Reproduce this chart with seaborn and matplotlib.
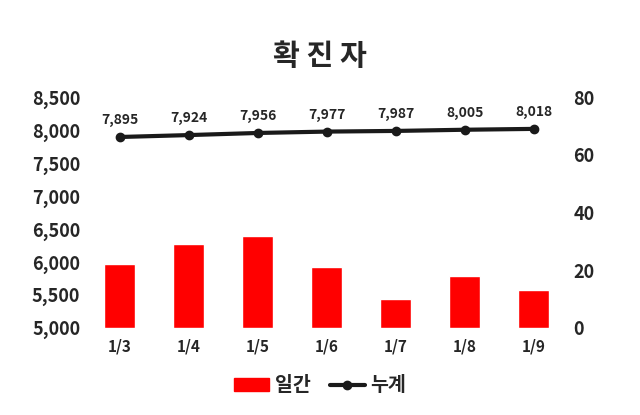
import matplotlib
matplotlib.use("Agg")
import matplotlib.pyplot as plt
import seaborn as sns
import pandas as pd
from matplotlib.lines import Line2D
from matplotlib.patches import Patch

dates = ["1/3", "1/4", "1/5", "1/6", "1/7", "1/8", "1/9"]
daily = [22, 29, 32, 21, 10, 18, 13]
cumulative = [7895, 7924, 7956, 7977, 7987, 8005, 8018]

sns.set_theme(style="white")
plt.rcParams['font.family'] = ['Noto Sans CJK KR', 'DejaVu Sans']

df = pd.DataFrame({"date": dates, "daily": daily, "cum": cumulative})
fig = plt.figure(figsize=(6.4, 4.15), dpi=100)
ax = fig.add_axes([0.133, 0.21, 0.755, 0.556])
ax2 = ax.twinx()

sns.barplot(data=df, x="date", y="daily", color="#ff0000", saturation=1, width=0.45, ax=ax2)
ax2.set_ylim(0, 80)
ax2.set_yticks([0, 20, 40, 60, 80])

xs = list(range(len(dates)))
ax.plot(xs, cumulative, color="#1a1a1a", lw=3, marker="o", ms=6, zorder=5)
ax.set_ylim(5000, 8500)
ax.set_yticks(range(5000, 8501, 500))
ax.set_yticklabels([f"{v:,}" for v in range(5000, 8501, 500)])
ax.set_xlim(-0.5, 6.5)
ax.set_zorder(ax2.get_zorder() + 1)
ax.patch.set_visible(False)
for x, v in zip(xs, cumulative):
    ax.text(x, v + 150, f"{v:,}", ha="center", va="bottom", fontsize=10, fontweight="bold")

for a in (ax, ax2):
    for s in a.spines.values():
        s.set_visible(False)
    a.tick_params(length=0, labelsize=13)
    for t in a.get_yticklabels() + a.get_xticklabels():
        t.set_fontweight("bold")
ax2.set_xlabel(""); ax2.set_ylabel(""); ax.set_xlabel(""); ax.set_ylabel("")
ax.set_xticks(xs)
ax.set_xticklabels(dates, fontweight="bold", fontsize=11)
ax.tick_params(axis="x", pad=8)

fig.text(0.5, 0.865, "확 진 자", ha="center", va="center", fontsize=21, fontweight="black")
handles = [Patch(color="#ff0000", label="일간"),
           Line2D([0], [0], color="#1a1a1a", lw=3, marker="o", ms=6, label="누계")]
fig.legend(handles=handles, loc="center", bbox_to_anchor=(0.5, 0.07), ncol=2, frameon=False,
           prop={"size": 14, "weight": "bold"}, handlelength=1.8, columnspacing=1.0, handletextpad=0.3)
fig.savefig("out.png", dpi=100)
